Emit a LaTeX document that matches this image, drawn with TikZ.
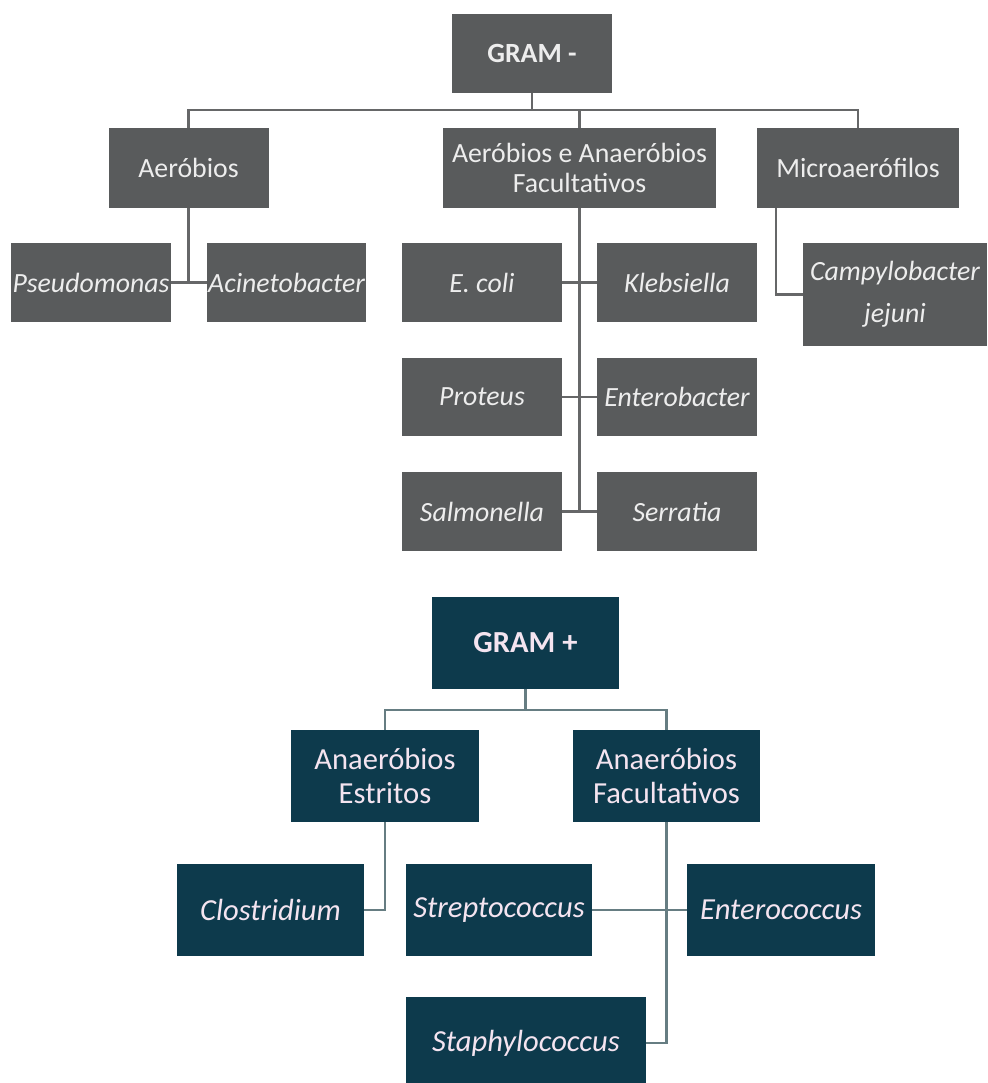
\documentclass[tikz,border=0pt]{standalone}
\usepackage{fontspec}
\setmainfont{Carlito}
\usepackage{xcolor}
\usetikzlibrary{positioning,calc}

\definecolor{boxgray}{HTML}{595B5C}
\definecolor{linegray}{HTML}{666768}
\definecolor{boxteal}{HTML}{0D3A4C}
\definecolor{lineteal}{HTML}{667D82}
\definecolor{txtpink}{HTML}{F4E4F0}

\begin{document}
\begin{tikzpicture}[x=1pt,y=-1pt,
  gbox/.style={fill=boxgray,text=white!93!black,inner sep=0pt,align=center,
    minimum width=160pt,minimum height=79pt,font=\fontsize{27.8}{30}\selectfont},
  gsp/.style={gbox,font=\fontsize{27.8}{42}\selectfont\itshape},
  tbox/.style={fill=boxteal,text=txtpink,inner sep=0pt,align=center,
    minimum width=187pt,minimum height=92pt,font=\fontsize{30.6}{34}\selectfont},
  tsp/.style={tbox,font=\fontsize{30.6}{34}\selectfont\itshape},
  gline/.style={line width=2.4pt,linegray},
  tline/.style={line width=2.4pt,lineteal}]
  \useasboundingbox (0,0) rectangle (987,1083);

  % GRAM -
  \node[gbox,font=\fontsize{27.8}{30}\selectfont\bfseries] (gneg) at (532,53.5) {GRAM -};
  \node[gbox,minimum height=80pt] (aer) at (188.5,168) {Aeróbios};
  \node[gbox,minimum width=273pt,minimum height=80pt] (fac) at (579.5,168) {Aeróbios e Anaeróbios\\Facultativos};
  \node[gbox,minimum width=202pt,minimum height=80pt] (micro) at (858,168) {Microaerófilos};
  \node[gsp] (pseudo) at (91,282.5) {Pseudomonas};
  \node[gsp,minimum width=159pt] (acin) at (286.5,282.5) {Acinetobacter};
  \node[gsp] (ecoli) at (482,282.5) {E. coli};
  \node[gsp] (kleb) at (677,282.5) {Klebsiella};
  \node[gsp,minimum height=78pt] (proteus) at (482,397) {Proteus};
  \node[gsp,minimum height=78pt] (entb) at (677,397) {Enterobacter};
  \node[gsp] (salm) at (482,511.5) {Salmonella};
  \node[gsp] (serr) at (677,511.5) {Serratia};
  \node[gsp,minimum width=184pt,minimum height=103pt] (campy) at (895,294.5) {Campylobacter\\jejuni};

  \coordinate (gnegbus) at (532,110);
  \draw[gline] (gneg.south) -- (gnegbus);
  \draw[gline] (aer.north) |- (gnegbus) -| (micro.north);
  \draw[gline] (fac.north) -- (fac.north |- gnegbus);
  \draw[gline] (aer.south) -- (aer.south |- pseudo.east);
  \draw[gline] (pseudo.east) -- (acin.west);
  \draw[gline] (fac.south) -- (fac.south |- salm.east);
  \draw[gline] (ecoli.east) -- (kleb.west);
  \draw[gline] (proteus.east) -- (entb.west);
  \draw[gline] (salm.east) -- (serr.west);
  \draw[gline] ($(micro.south west)+(19,0)$) |- (campy.west);

  % GRAM +
  \node[tbox,font=\fontsize{30.6}{34}\selectfont\bfseries] (gpos) at (525.5,643) {GRAM +};
  \node[tbox,minimum width=188pt] (estr) at (385,776) {Anaeróbios\\Estritos};
  \node[tbox] (afac) at (666.5,776) {Anaeróbios\\Facultativos};
  \node[tsp] (clos) at (270.5,910) {Clostridium};
  \node[tsp,minimum width=186pt] (strep) at (499,910) {Streptococcus};
  \node[tsp,minimum width=188pt] (entc) at (781,910) {Enterococcus};
  \node[tsp,minimum width=240pt] (staph) at (526,1043) {Staphylococcus};

  \coordinate (gposbus) at (525.5,710);
  \draw[tline] (gpos.south) -- (gposbus);
  \draw[tline] (estr.north) |- (gposbus) -| (afac.north);
  \draw[tline] (estr.south) |- (clos.east);
  \draw[tline] (afac.south) |- (staph.east);
  \draw[tline] (strep.east) -- (entc.west);
\end{tikzpicture}
\end{document}
